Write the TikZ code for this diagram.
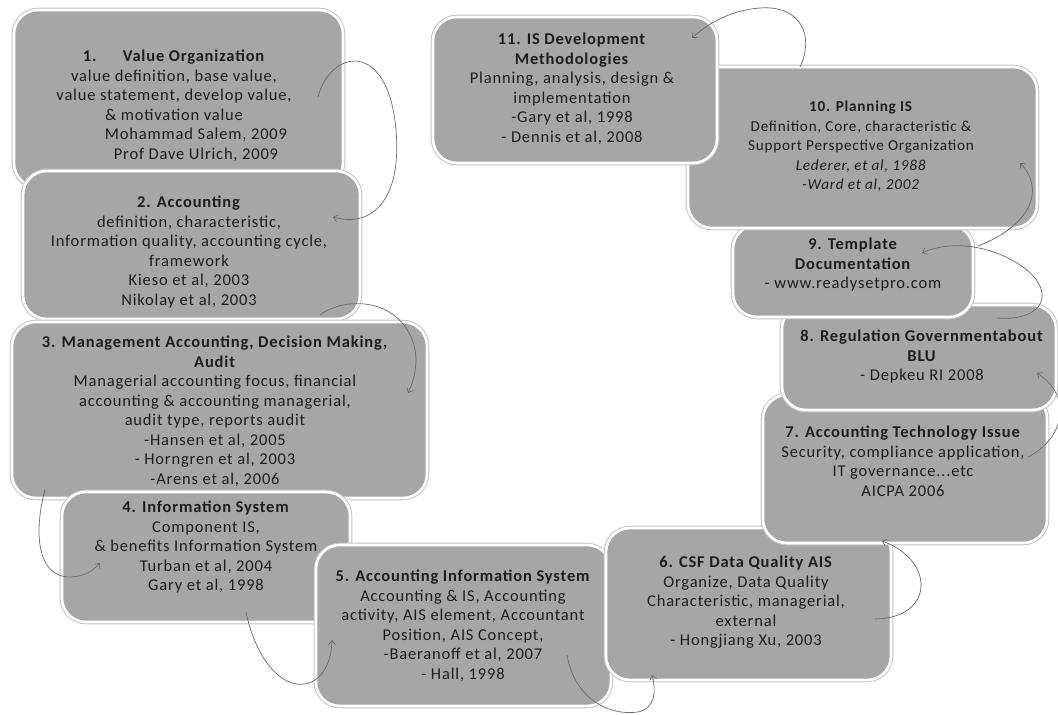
\documentclass[tikz,border=0pt]{standalone}
\usepackage{fontspec}
\setmainfont{Carlito}[LetterSpace=5]
\usetikzlibrary{arrows.meta}
\definecolor{boxgray}{HTML}{A6A6A6}
\definecolor{edgegray}{HTML}{C4C4C4}
\definecolor{linkgray}{HTML}{6A6A6A}
\definecolor{txt}{HTML}{1E1E1E}
\begin{document}
\begin{tikzpicture}[x=1pt,y=-1pt,
  box/.style={draw=white, line width=2.6pt, fill=boxgray, rounded corners=24pt, inner sep=0pt,
    preaction={draw=edgegray, line width=4.6pt}},
  lbl/.style={anchor=north, align=center, inner sep=0pt, font=\fontsize{16.5}{19.5}\selectfont, text=txt},
  smalllbl/.style={lbl, font=\fontsize{15.2}{19.5}\selectfont},
  link/.style={draw=linkgray, line width=0.7pt, -{Straight Barb[length=4pt,width=7pt]}}]
\fill[white] (0,0) rectangle (1058,715);
\useasboundingbox (0,0) rectangle (1058,715);

% 1
\node[box, minimum width=329pt, minimum height=177pt] (b1) at (178.5,98.5) {};
\node[lbl] (t1) at (174,50) {\textbf{1.\hspace{1.6em}Value Organization}\\ value definition, base value,\\ value statement, develop value,\\ \& motivation value\\ \hspace*{44pt}Mohammad Salem, 2009\\ \hspace*{44pt}Prof Dave Ulrich, 2009};
% 2
\node[box, minimum width=337pt, minimum height=148pt] (b2) at (191.5,245) {};
\node[lbl] (t2) at (189,196) {\textbf{2. Accounting}\\ definition, characteristic,\\ Information quality, accounting cycle,\\ framework\\ Kieso et al, 2003\\ Nikolay et al, 2003};
% 3
\node[box, minimum width=415pt, minimum height=176pt] (b3) at (219.5,410) {};
\node[lbl] (t3) at (215,336) {\textbf{3. Management Accounting, Decision Making,}\\ \textbf{Audit}\\ Managerial accounting focus, financial\\ accounting \& accounting managerial,\\ audit type, reports audit\\ -Hansen et al, 2005\\ - Horngren et al, 2003\\ -Arens et al, 2006};
% 4
\node[box, minimum width=288pt, minimum height=130pt] (b4) at (206,557) {};
\node[lbl] (t4) at (206,501) {\textbf{4. Information System}\\ Component IS,\\ \& benefits Information System\\ Turban et al, 2004\\ Gary et al, 1998};
% 5
\node[box, minimum width=295pt, minimum height=161pt] (b5) at (463.5,625.5) {};
\node[lbl] (t5) at (463,570) {\textbf{5. Accounting Information System}\\ Accounting \& IS, Accounting\\ activity, AIS element, Accountant\\ Position, AIS Concept,\\ -Baeranoff et al, 2007\\ - Hall, 1998};
% 6
\node[box, minimum width=285pt, minimum height=152pt] (b6) at (748.5,604) {};
\node[lbl] (t6) at (746,556) {\textbf{6. CSF Data Quality AIS}\\ Organize, Data Quality\\ Characteristic, managerial,\\ external\\ - Hongjiang Xu, 2003};
% 7
\node[box, minimum width=284pt, minimum height=148pt] (b7) at (905,469) {};
\node[lbl] (t7) at (903,426) {\textbf{7. Accounting Technology Issue}\\ Security, compliance application,\\ IT governance...etc\\ AICPA 2006};
% 8
\node[box, minimum width=274pt, minimum height=105pt] (b8) at (919,357.5) {};
\node[lbl] (t8) at (922,330) {\textbf{8. Regulation Governmentabout}\\ \textbf{BLU}\\ - Depkeu RI 2008};
% 9
\node[box, minimum width=240pt, minimum height=92pt] (b9) at (853,271) {};
\node[lbl] (t9) at (853,238) {\textbf{9. Template}\\ \textbf{Documentation}\\ - www.readysetpro.com};
% 10
\node[box, minimum width=349pt, minimum height=161pt] (b10) at (862.5,147.5) {};
\node[smalllbl] (t10) at (861,101) {\textbf{10. Planning IS}\\ Definition, Core, characteristic \&\\ Support Perspective Organization\\ \textit{Lederer, et al, 1988}\\ \textit{-Ward et al, 2002}};
% 11
\node[box, minimum width=284pt, minimum height=146pt] (b11) at (575,90) {};
\node[lbl] (t11) at (572,33) {\textbf{11. IS Development}\\ \textbf{Methodologies}\\ Planning, analysis, design \&\\ implementation\\ -Gary et al, 1998\\ - Dennis et al, 2008};

% connector ends
\coordinate (s1) at (318,97);   \coordinate (e1) at (333,217);
\coordinate (s2) at (320,315);  \coordinate (e2) at (408,393);
\coordinate (s3) at (45,490);   \coordinate (e3) at (100,563);
\coordinate (s4) at (246,612);  \coordinate (e4) at (332,640);
\coordinate (s5) at (567,655);  \coordinate (e5) at (652,675);
\coordinate (s6) at (875,619);  \coordinate (e6) at (882,541);
\coordinate (s7) at (1028,457); \coordinate (e7) at (1037,373);
\coordinate (s8) at (997,318);  \coordinate (e8) at (922,253);
\coordinate (s9) at (978,246);  \coordinate (e9) at (1020,163);
\coordinate (s10) at (800,67);  \coordinate (e10) at (692,38);

\draw[link] (s1) .. controls (330,50) and (388,38) .. (396,130) .. controls (402,200) and (372,228) .. (e1);
\draw[link] (s2) .. controls (345,296) and (398,298) .. (413,342) .. controls (420,362) and (413,383) .. (e2);
\draw[link] (s3) .. controls (34,530) and (36,577) .. (70,577) .. controls (84,577) and (94,570) .. (e3);
\draw[link] (s4) .. controls (256,660) and (282,688) .. (305,684) .. controls (326,680) and (332,655) .. (e4);
\draw[link] (s5) .. controls (575,700) and (610,716) .. (638,712) .. controls (656,708) and (656,690) .. (e5);
\draw[link] (s6) .. controls (935,618) and (935,560) .. (e6);
\draw[link] (s7) .. controls (1062,440) and (1075,398) .. (e7);
\draw[link] (s8) .. controls (1045,322) and (1058,290) .. (1020,265) .. controls (990,245) and (950,240) .. (e8);
\draw[link] (s9) .. controls (1030,226) and (1046,190) .. (e9);
\draw[link] (s10) .. controls (815,35) and (800,5) .. (760,8) .. controls (730,10) and (706,25) .. (e10);
\end{tikzpicture}
\end{document}
